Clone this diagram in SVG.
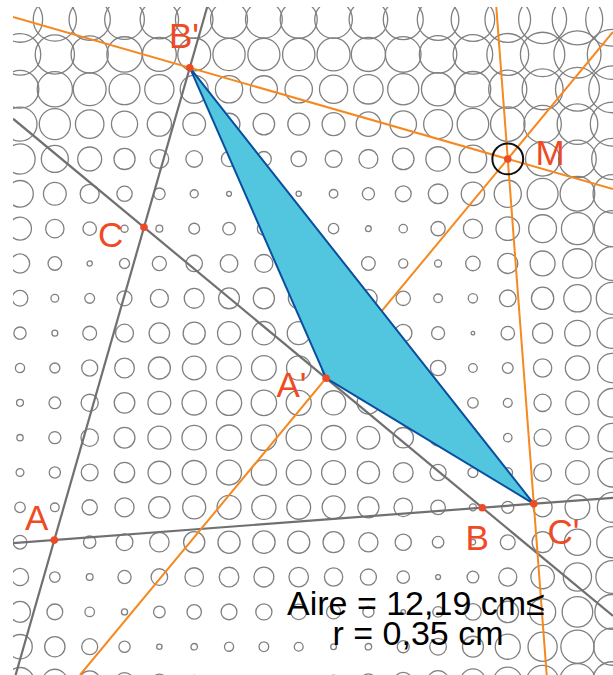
<svg xmlns="http://www.w3.org/2000/svg" width="613" height="675" viewBox="0 0 613 675">
<defs>
<clipPath id="win"><rect x="13" y="7" width="600" height="668"/></clipPath>
</defs>
<style>
.g circle{fill:none;stroke:#808080;stroke-width:1.3}
.gl{stroke:#707070;stroke-width:2.2;fill:none}
.ol{stroke:#f5891f;stroke-width:2;fill:none}
.pt{fill:#ee4b24}
.lb{font-family:"Liberation Sans",Arial,sans-serif;font-size:35px;fill:#ee4b24}
.tx{font-family:"Liberation Sans",Arial,sans-serif;font-size:34px;fill:#000}
</style>
<rect width="613" height="675" fill="#fff"/>
<g clip-path="url(#win)">
<g id="grid" class="g">
<g transform="translate(0,19.6)"><circle cx="20" r="22.63"/><circle cx="54.84" r="21.58"/><circle cx="89.68" r="20.65"/><circle cx="124.52" r="19.86"/><circle cx="159.36" r="19.23"/><circle cx="194.2" r="18.77"/><circle cx="229.04" r="18.49"/><circle cx="263.88" r="18.41"/><circle cx="298.72" r="18.52"/><circle cx="333.56" r="18.83"/><circle cx="368.4" r="19.32"/><circle cx="403.24" r="19.97"/><circle cx="438.08" r="20.79"/><circle cx="472.92" r="21.74"/><circle cx="507.76" r="22.81"/><circle cx="542.6" r="23.98"/><circle cx="577.44" r="25.24"/><circle cx="612.28" r="26.58"/></g>
<g transform="translate(0,54.44)"><circle cx="20" r="20.75"/><circle cx="54.84" r="19.6"/><circle cx="89.68" r="18.57"/><circle cx="124.52" r="17.69"/><circle cx="159.36" r="16.97"/><circle cx="194.2" r="16.45"/><circle cx="229.04" r="16.13"/><circle cx="263.88" r="16.04"/><circle cx="298.72" r="16.17"/><circle cx="333.56" r="16.52"/><circle cx="368.4" r="17.07"/><circle cx="403.24" r="17.81"/><circle cx="438.08" r="18.72"/><circle cx="472.92" r="19.77"/><circle cx="507.76" r="20.94"/><circle cx="542.6" r="22.21"/><circle cx="577.44" r="23.57"/><circle cx="612.28" r="24.99"/></g>
<g transform="translate(0,89.28)"><circle cx="20" r="18.87"/><circle cx="54.84" r="17.6"/><circle cx="89.68" r="16.44"/><circle cx="124.52" r="15.44"/><circle cx="159.36" r="14.62"/><circle cx="194.2" r="14"/><circle cx="229.04" r="13.63"/><circle cx="263.88" r="13.52"/><circle cx="298.72" r="13.67"/><circle cx="333.56" r="14.08"/><circle cx="368.4" r="14.73"/><circle cx="403.24" r="15.58"/><circle cx="438.08" r="16.61"/><circle cx="472.92" r="17.79"/><circle cx="507.76" r="19.08"/><circle cx="542.6" r="20.47"/><circle cx="577.44" r="21.93"/><circle cx="612.28" r="23.46"/></g>
<g transform="translate(0,124.12)"><circle cx="20" r="17"/><circle cx="54.84" r="15.57"/><circle cx="89.68" r="14.26"/><circle cx="124.52" r="13.08"/><circle cx="159.36" r="12.1"/><circle cx="194.2" r="11.35"/><circle cx="229.04" r="10.89"/><circle cx="263.88" r="10.75"/><circle cx="298.72" r="10.94"/><circle cx="333.56" r="11.45"/><circle cx="368.4" r="12.24"/><circle cx="403.24" r="13.25"/><circle cx="438.08" r="14.45"/><circle cx="472.92" r="15.79"/><circle cx="507.76" r="17.23"/><circle cx="542.6" r="18.75"/><circle cx="577.44" r="20.34"/><circle cx="612.28" r="21.98"/></g>
<g transform="translate(0,158.96)"><circle cx="20" r="15.13"/><circle cx="54.84" r="13.51"/><circle cx="89.68" r="11.97"/><circle cx="124.52" r="10.55"/><circle cx="159.36" r="9.3"/><circle cx="194.2" r="8.3"/><circle cx="229.04" r="7.66"/><circle cx="263.88" r="7.45"/><circle cx="298.72" r="7.73"/><circle cx="333.56" r="8.44"/><circle cx="368.4" r="9.48"/><circle cx="403.24" r="10.76"/><circle cx="438.08" r="12.2"/><circle cx="472.92" r="13.76"/><circle cx="542.6" r="17.08"/><circle cx="577.44" r="18.81"/><circle cx="612.28" r="20.57"/></g>
<g transform="translate(0,193.8)"><circle cx="20" r="13.28"/><circle cx="54.84" r="11.39"/><circle cx="89.68" r="9.52"/><circle cx="124.52" r="7.65"/><circle cx="159.36" r="5.81"/><circle cx="194.2" r="4.03"/><circle cx="229.04" r="2.43"/><circle cx="263.88" r="1.69"/><circle cx="298.72" r="2.65"/><circle cx="333.56" r="4.29"/><circle cx="368.4" r="6.09"/><circle cx="403.24" r="7.94"/><circle cx="438.08" r="9.8"/><circle cx="472.92" r="11.68"/><circle cx="507.76" r="13.57"/><circle cx="542.6" r="15.46"/><circle cx="577.44" r="17.35"/><circle cx="612.28" r="19.25"/></g>
<g transform="translate(0,228.64)"><circle cx="20" r="11.44"/><circle cx="54.84" r="9.18"/><circle cx="89.68" r="6.71"/><circle cx="124.52" r="3.61"/><circle cx="159.36" r="3.42"/><circle cx="194.2" r="5.41"/><circle cx="229.04" r="6.29"/><circle cx="263.88" r="6.53"/><circle cx="298.72" r="6.2"/><circle cx="333.56" r="5.2"/><circle cx="368.4" r="2.9"/><circle cx="403.24" r="4.18"/><circle cx="438.08" r="7.12"/><circle cx="472.92" r="9.54"/><circle cx="507.76" r="11.77"/><circle cx="542.6" r="13.91"/><circle cx="577.44" r="15.99"/><circle cx="612.28" r="18.03"/></g>
<g transform="translate(0,263.48)"><circle cx="20" r="9.62"/><circle cx="54.84" r="6.79"/><circle cx="89.68" r="2.61"/><circle cx="124.52" r="5.02"/><circle cx="159.36" r="7.07"/><circle cx="194.2" r="8.22"/><circle cx="229.04" r="8.82"/><circle cx="263.88" r="8.99"/><circle cx="298.72" r="8.76"/><circle cx="333.56" r="8.08"/><circle cx="368.4" r="6.83"/><circle cx="403.24" r="4.55"/><circle cx="438.08" r="3.52"/><circle cx="472.92" r="7.26"/><circle cx="507.76" r="10.02"/><circle cx="542.6" r="12.46"/><circle cx="577.44" r="14.74"/><circle cx="612.28" r="16.93"/></g>
<g transform="translate(0,298.32)"><circle cx="20" r="7.85"/><circle cx="54.84" r="3.88"/><circle cx="89.68" r="4.92"/><circle cx="124.52" r="7.5"/><circle cx="159.36" r="9"/><circle cx="194.2" r="9.93"/><circle cx="229.04" r="10.43"/><circle cx="263.88" r="10.58"/><circle cx="298.72" r="10.38"/><circle cx="333.56" r="9.81"/><circle cx="368.4" r="8.81"/><circle cx="403.24" r="7.19"/><circle cx="438.08" r="4.31"/><circle cx="472.92" r="4.67"/><circle cx="507.76" r="8.33"/><circle cx="542.6" r="11.15"/><circle cx="577.44" r="13.65"/><circle cx="612.28" r="15.99"/></g>
<g transform="translate(0,333.16)"><circle cx="20" r="6.15"/><circle cx="54.84" r="2.94"/><circle cx="89.68" r="6.92"/><circle cx="124.52" r="8.94"/><circle cx="159.36" r="10.23"/><circle cx="194.2" r="11.06"/><circle cx="229.04" r="11.51"/><circle cx="263.88" r="11.65"/><circle cx="298.72" r="11.47"/><circle cx="333.56" r="10.96"/><circle cx="368.4" r="10.07"/><circle cx="403.24" r="8.69"/><circle cx="438.08" r="6.51"/><circle cx="472.92" r="1.8"/><circle cx="507.76" r="6.75"/><circle cx="542.6" r="10.02"/><circle cx="577.44" r="12.75"/><circle cx="612.28" r="15.23"/></g>
<g transform="translate(0,368)"><circle cx="20" r="4.62"/><circle cx="54.84" r="5.02"/><circle cx="89.68" r="8.03"/><circle cx="124.52" r="9.82"/><circle cx="159.36" r="11.01"/><circle cx="194.2" r="11.78"/><circle cx="229.04" r="12.21"/><circle cx="263.88" r="12.34"/><circle cx="298.72" r="12.17"/><circle cx="333.56" r="11.69"/><circle cx="368.4" r="10.86"/><circle cx="403.24" r="9.59"/><circle cx="438.08" r="7.67"/><circle cx="472.92" r="4.3"/><circle cx="507.76" r="5.39"/><circle cx="542.6" r="9.16"/><circle cx="577.44" r="12.08"/><circle cx="612.28" r="14.68"/></g>
<g transform="translate(0,402.84)"><circle cx="20" r="3.47"/><circle cx="54.84" r="5.87"/><circle cx="89.68" r="8.59"/><circle cx="124.52" r="10.28"/><circle cx="159.36" r="11.43"/><circle cx="194.2" r="12.17"/><circle cx="229.04" r="12.58"/><circle cx="263.88" r="12.71"/><circle cx="298.72" r="12.54"/><circle cx="333.56" r="12.08"/><circle cx="368.4" r="11.28"/><circle cx="403.24" r="10.07"/><circle cx="438.08" r="8.26"/><circle cx="472.92" r="5.27"/><circle cx="507.76" r="4.45"/><circle cx="542.6" r="8.64"/><circle cx="577.44" r="11.69"/><circle cx="612.28" r="14.36"/></g>
<g transform="translate(0,437.68)"><circle cx="20" r="3.16"/><circle cx="54.84" r="6.04"/><circle cx="89.68" r="8.71"/><circle cx="124.52" r="10.38"/><circle cx="159.36" r="11.51"/><circle cx="194.2" r="12.25"/><circle cx="229.04" r="12.67"/><circle cx="263.88" r="12.79"/><circle cx="298.72" r="12.62"/><circle cx="333.56" r="12.16"/><circle cx="368.4" r="11.37"/><circle cx="403.24" r="10.17"/><circle cx="438.08" r="8.38"/><circle cx="472.92" r="5.46"/><circle cx="507.76" r="4.22"/><circle cx="542.6" r="8.52"/><circle cx="577.44" r="11.61"/><circle cx="612.28" r="14.28"/></g>
<g transform="translate(0,472.52)"><circle cx="20" r="3.89"/><circle cx="54.84" r="5.6"/><circle cx="89.68" r="8.4"/><circle cx="124.52" r="10.13"/><circle cx="159.36" r="11.29"/><circle cx="194.2" r="12.04"/><circle cx="229.04" r="12.46"/><circle cx="263.88" r="12.58"/><circle cx="298.72" r="12.41"/><circle cx="333.56" r="11.95"/><circle cx="368.4" r="11.14"/><circle cx="403.24" r="9.91"/><circle cx="438.08" r="8.06"/><circle cx="472.92" r="4.96"/><circle cx="507.76" r="4.79"/><circle cx="542.6" r="8.82"/><circle cx="577.44" r="11.83"/><circle cx="612.28" r="14.47"/></g>
<g transform="translate(0,507.36)"><circle cx="20" r="5.25"/><circle cx="54.84" r="4.35"/><circle cx="89.68" r="7.63"/><circle cx="124.52" r="9.5"/><circle cx="159.36" r="10.72"/><circle cx="194.2" r="11.51"/><circle cx="229.04" r="11.95"/><circle cx="263.88" r="12.08"/><circle cx="298.72" r="11.9"/><circle cx="333.56" r="11.41"/><circle cx="368.4" r="10.56"/><circle cx="403.24" r="9.26"/><circle cx="438.08" r="7.25"/><circle cx="472.92" r="3.49"/><circle cx="507.76" r="5.95"/><circle cx="542.6" r="9.5"/><circle cx="577.44" r="12.34"/><circle cx="612.28" r="14.89"/></g>
<g transform="translate(0,542.2)"><circle cx="20" r="6.88"/><circle cx="54.84" r="0.88"/><circle cx="89.68" r="6.2"/><circle cx="124.52" r="8.4"/><circle cx="159.36" r="9.76"/><circle cx="194.2" r="10.62"/><circle cx="229.04" r="11.1"/><circle cx="263.88" r="11.23"/><circle cx="298.72" r="11.05"/><circle cx="333.56" r="10.52"/><circle cx="368.4" r="9.59"/><circle cx="403.24" r="8.13"/><circle cx="438.08" r="5.74"/><circle cx="472.92" r="2.73"/><circle cx="507.76" r="7.42"/><circle cx="542.6" r="10.48"/><circle cx="577.44" r="13.12"/><circle cx="612.28" r="15.54"/></g>
<g transform="translate(0,577.04)"><circle cx="20" r="8.61"/><circle cx="54.84" r="5.26"/><circle cx="89.68" r="3.4"/><circle cx="124.52" r="6.6"/><circle cx="159.36" r="8.27"/><circle cx="194.2" r="9.27"/><circle cx="229.04" r="9.81"/><circle cx="263.88" r="9.96"/><circle cx="298.72" r="9.75"/><circle cx="333.56" r="9.15"/><circle cx="368.4" r="8.06"/><circle cx="403.24" r="6.26"/><circle cx="438.08" r="2.45"/><circle cx="472.92" r="5.86"/><circle cx="507.76" r="9.05"/><circle cx="542.6" r="11.7"/><circle cx="577.44" r="14.1"/><circle cx="612.28" r="16.38"/></g>
<g transform="translate(0,611.88)"><circle cx="20" r="10.41"/><circle cx="54.84" r="7.86"/><circle cx="89.68" r="4.75"/><circle cx="124.52" r="3.07"/><circle cx="159.36" r="5.85"/><circle cx="194.2" r="7.19"/><circle cx="229.04" r="7.88"/><circle cx="263.88" r="8.07"/><circle cx="298.72" r="7.81"/><circle cx="333.56" r="7.04"/><circle cx="368.4" r="5.56"/><circle cx="403.24" r="2.23"/><circle cx="438.08" r="5.31"/><circle cx="472.92" r="8.28"/><circle cx="507.76" r="10.78"/><circle cx="542.6" r="13.08"/><circle cx="577.44" r="15.27"/><circle cx="612.28" r="17.39"/></g>
<g transform="translate(0,646.72)"><circle cx="20" r="12.24"/><circle cx="54.84" r="10.16"/><circle cx="89.68" r="8"/><circle cx="124.52" r="5.65"/><circle cx="159.36" r="2.68"/><circle cx="194.2" r="3.22"/><circle cx="229.04" r="4.55"/><circle cx="263.88" r="4.87"/><circle cx="298.72" r="4.42"/><circle cx="333.56" r="2.85"/><circle cx="368.4" r="3.24"/><circle cx="403.24" r="6.03"/><circle cx="438.08" r="8.34"/><circle cx="472.92" r="10.48"/><circle cx="507.76" r="12.55"/><circle cx="542.6" r="14.57"/><circle cx="577.44" r="16.57"/><circle cx="612.28" r="18.54"/></g>
<g transform="translate(0,681.56)"><circle cx="20" r="14.08"/><circle cx="54.84" r="12.32"/><circle cx="89.68" r="10.61"/><circle cx="124.52" r="8.98"/><circle cx="159.36" r="7.47"/><circle cx="194.2" r="6.19"/><circle cx="229.04" r="5.29"/><circle cx="263.88" r="4.99"/><circle cx="298.72" r="5.39"/><circle cx="333.56" r="6.36"/><circle cx="368.4" r="7.69"/><circle cx="403.24" r="9.22"/><circle cx="438.08" r="10.87"/><circle cx="472.92" r="12.59"/><circle cx="507.76" r="14.36"/><circle cx="542.6" r="16.16"/><circle cx="577.44" r="17.97"/><circle cx="612.28" r="19.81"/></g>
</g>
<g id="connectors">
<line class="gl" x1="15.6" y1="675" x2="207.2" y2="7"/>
<line class="gl" x1="13" y1="118.7" x2="613" y2="616"/>
<line class="gl" x1="13" y1="543.1" x2="613" y2="497.8"/>
<line class="ol" x1="13" y1="17.03" x2="613" y2="189.15"/>
<line class="ol" x1="80" y1="675" x2="613" y2="32"/>
<line class="ol" x1="496.3" y1="7" x2="546.7" y2="675"/>
</g>
</g>
<g id="pedal-triangle">
<polygon points="189.8,67.7 326.1,378.2 533.8,503.8" fill="#53c6df" stroke="#0a4f9e" stroke-width="2" stroke-linejoin="round"/>
</g>
<g id="M-circle"><circle cx="507.76" cy="158.96" r="15.4" fill="none" stroke="#111" stroke-width="2"/></g>
<g id="A"><circle class="pt" cx="54.3" cy="540" r="3.8"/><text class="lb" x="25" y="530">A</text></g>
<g id="B"><circle class="pt" cx="482.3" cy="507.7" r="3.8"/><text class="lb" x="465.5" y="550">B</text></g>
<g id="C"><circle class="pt" cx="144" cy="227.3" r="3.8"/><text class="lb" x="98" y="246.5">C</text></g>
<g id="Ap"><circle class="pt" cx="326.1" cy="378.2" r="3.8"/><text class="lb" x="276.5" y="396.5">A'</text></g>
<g id="Bp"><circle class="pt" cx="189.8" cy="67.7" r="3.8"/><text class="lb" x="169" y="48">B'</text></g>
<g id="Cp"><circle class="pt" cx="533.8" cy="503.8" r="3.8"/><text class="lb" x="547.5" y="543.5">C'</text></g>
<g id="M"><circle class="pt" cx="507.76" cy="158.96" r="3.8"/><text class="lb" x="535.5" y="165">M</text></g>
<g id="info">
<text class="tx" x="287" y="615">Aire = 12,19 cm≤</text>
<text class="tx" x="332.5" y="645">r = 0,35 cm</text>
</g>
</svg>
